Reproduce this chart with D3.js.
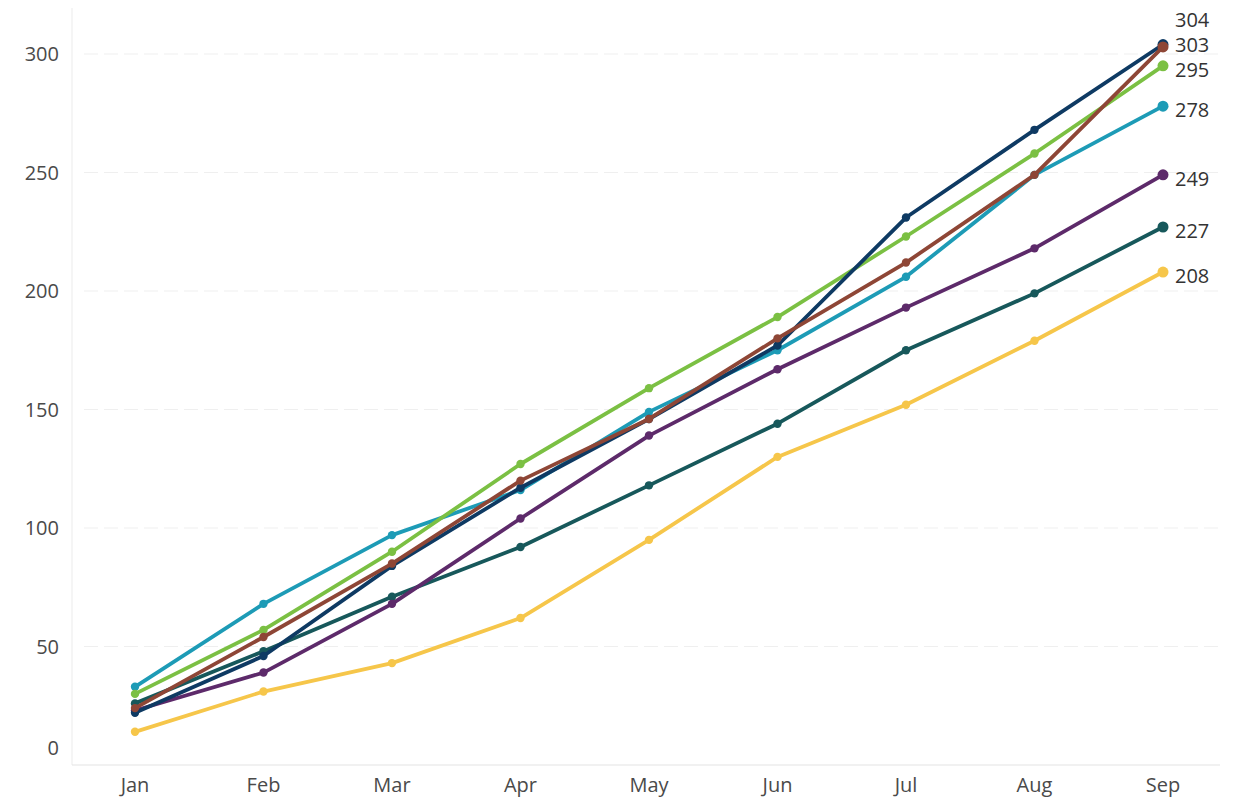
<!DOCTYPE html>
<html>
<head>
<meta charset="utf-8">
<script src="https://cdn.jsdelivr.net/npm/d3@7"></script>
<style>
  body { margin: 0; background: #fff; }
  text { font-family: "Open Sans", sans-serif; }
</style>
</head>
<body>
<div id="chart"></div>
<script>
// data
var months = ["Jan", "Feb", "Mar", "Apr", "May", "Jun", "Jul", "Aug", "Sep"];
var yTicks = [0, 50, 100, 150, 200, 250, 300];

var navy     = [22, 46, 84, 117, 146, 177, 231, 268, 304];
var brown    = [24, 54, 85, 120, 146, 180, 212, 249, 303];
var green    = [30, 57, 90, 127, 159, 189, 223, 258, 295];
var tealBlue = [33, 68, 97, 116, 149, 175, 206, 249, 278];
var purple   = [23, 39, 68, 104, 139, 167, 193, 218, 249];
var darkTeal = [26, 48, 71, 92, 118, 144, 175, 199, 227];
var yellow   = [14, 31, 43, 62, 95, 130, 152, 179, 208];

var series = [
    {id: "yellow", color: "#f6c64a", values: yellow},
    {id: "darkTeal", color: "#17585b", values: darkTeal},
    {id: "purple", color: "#5d2a6a", values: purple},
    {id: "tealBlue", color: "#1d9bb6", values: tealBlue},
    {id: "green", color: "#7bc043", values: green},
    {id: "navy", color: "#0e3a63", values: navy},
    {id: "brown", color: "#8e4636", values: brown}
];

var width = 1243, height = 801;

var svg = d3.select("#chart").append("svg")
    .attr("width", width)
    .attr("height", height);

var x = d3.scalePoint().domain(months).range([135, 1163]);
var y = d3.scaleLinear().domain([0, 300]).range([765, 54]);

// gridlines
svg.append("g")
    .selectAll("line")
    .data(yTicks.filter(function (d) { return d > 0; }))
    .enter().append("line")
    .attr("x1", 84).attr("x2", 1220)
    .attr("y1", function (d) { return y(d); })
    .attr("y2", function (d) { return y(d); })
    .attr("stroke", "#efefef")
    .attr("stroke-dasharray", "14,6");

// axis lines
svg.append("line")
    .attr("x1", 72).attr("x2", 72).attr("y1", 8).attr("y2", 765)
    .attr("stroke", "#ebebeb");
svg.append("line")
    .attr("x1", 72).attr("x2", 1220).attr("y1", 765).attr("y2", 765)
    .attr("stroke", "#e3e3e3");

// y tick labels (Tableau nudges the bottom one up into the pane)
svg.append("g")
    .selectAll("text")
    .data(yTicks)
    .enter().append("text")
    .attr("x", 59)
    .attr("y", function (d) { return d === 0 ? y(d) - 17 : y(d); })
    .attr("dy", "0.35em")
    .attr("text-anchor", "end")
    .attr("fill", "#4a4a4a")
    .style("font-size", "20px")
    .text(function (d) { return d; });

// x tick labels
svg.append("g")
    .selectAll("text")
    .data(months)
    .enter().append("text")
    .attr("x", function (d) { return x(d); })
    .attr("y", 785)
    .attr("dy", "0.35em")
    .attr("text-anchor", "middle")
    .attr("fill", "#4a4a4a")
    .style("font-size", "20px")
    .text(function (d) { return d; });

var line = d3.line()
    .x(function (d, i) { return x(months[i]); })
    .y(function (d) { return y(d); });

var g = svg.selectAll(".series")
    .data(series)
    .enter().append("g")
    .attr("class", "series");

g.append("path")
    .attr("d", function (d) { return line(d.values); })
    .attr("fill", "none")
    .attr("stroke", function (d) { return d.color; })
    .attr("stroke-width", 3.8)
    .attr("stroke-linejoin", "round");

g.selectAll("circle")
    .data(function (d) { return d.values.map(function (v, i) { return {v: v, i: i, color: d.color}; }); })
    .enter().append("circle")
    .attr("cx", function (d) { return x(months[d.i]); })
    .attr("cy", function (d) { return y(d.v); })
    .attr("r", function (d) { return d.i === months.length - 1 ? 5.5 : 4.2; })
    .attr("fill", function (d) { return d.color; });

// end labels, pushed apart so they don't overlap
var ends = series.map(function (s) {
    var v = s.values[s.values.length - 1];
    return {v: v, ly: y(v)};
}).sort(function (a, b) { return a.v - b.v; });

for (var i = 1; i < ends.length; i++) {
    ends[i].ly = Math.min(ends[i].ly, ends[i - 1].ly - 25);
}

svg.append("g")
    .selectAll("text")
    .data(ends)
    .enter().append("text")
    .attr("x", x("Sep") + 12)
    .attr("y", function (d) { return d.ly + 4; })
    .attr("dy", "0.35em")
    .attr("fill", "#333")
    .style("font-size", "20px")
    .text(function (d) { return d.v; });
</script>
</body>
</html>
